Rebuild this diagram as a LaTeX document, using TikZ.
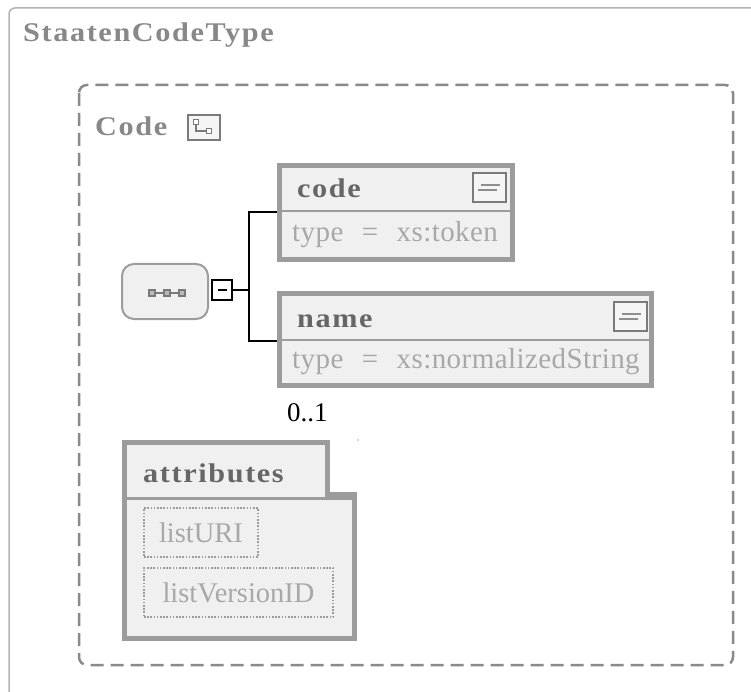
\documentclass[tikz,border=0pt]{standalone}
\usepackage{fontspec}
\setmainfont{Liberation Serif}
\newfontfamily\hdrfont[LetterSpace=6,FakeStretch=1.12]{Liberation Serif}
\newfontfamily\typefont[WordSpace=2.4,LetterSpace=1.5]{Liberation Serif}
\definecolor{outerline}{HTML}{B4B4B4}
\definecolor{titlegray}{HTML}{888888}
\definecolor{dashgray}{HTML}{8A8A8A}
\definecolor{boxgray}{HTML}{9C9C9C}
\definecolor{boxfill}{HTML}{F0F0F0}
\definecolor{hdrgray}{HTML}{666666}
\definecolor{typegray}{HTML}{A8A8A8}
\definecolor{icongray}{HTML}{7A7A7A}
\tikzset{
  ttl/.style={inner sep=0pt, text=titlegray, font=\hdrfont\bfseries\fontsize{27pt}{30pt}\selectfont},
  hdr/.style={inner sep=0pt, text=hdrgray, font=\hdrfont\bfseries\fontsize{27pt}{30pt}\selectfont},
  typ/.style={inner sep=0pt, text=typegray, font=\typefont\fontsize{29pt}{34pt}\selectfont},
  elem/.style={draw=boxgray, line width=5pt, fill=boxfill, rectangle, inner sep=0pt},
  sepline/.style={draw=boxgray, line width=2.5pt},
  conn/.style={draw=black, line width=2pt},
  seqbox/.style={draw=boxgray, line width=2pt, fill=boxfill, rounded corners=12pt, minimum width=86pt, minimum height=55pt, inner sep=0pt},
  minusbox/.style={draw=black, line width=2pt, fill=white, minimum size=20pt, inner sep=0pt},
  attrbox/.style={draw=boxgray, line width=1.6pt, dash pattern=on 1.6pt off 1.6pt, inner sep=0pt, text=typegray, font=\fontsize{28.5pt}{32pt}\selectfont},
  iconbox/.style={draw=icongray, line width=2pt, fill=white!96!black},
  iconline/.style={draw=icongray!85, line width=2.5pt},
  docicon/.pic={
    \draw[iconbox] (0,0) rectangle (33,29);
    \draw[iconline] (8,12) -- (27,12);
    \draw[iconline] (5,17) -- (24,17);
  }
}
\begin{document}
\begin{tikzpicture}[x=1pt,y=-1pt]
\useasboundingbox (0,0) rectangle (751,692);
\fill[white] (0,0) rectangle (751,692);
% outer type box (clipped at right and bottom)
\draw[outerline, line width=1.5pt, rounded corners=6pt] (9,700) -- (9,8) -- (760,8);
\node[ttl, anchor=base west] (title) at (23,42) {StaatenCodeType};
% dashed complex type box
\draw[dashgray, line width=2.5pt, dash pattern=on 13pt off 7pt, rounded corners=8pt] (79,85) rectangle (733,665);
\node[ttl, anchor=base west] (codeLbl) at (95,136) {Code};
% tree icon
\draw[iconbox] (188,115) rectangle (220,140);
\draw[icongray, line width=1.5pt] (196,124) -- (196,131) -- (207,131);
\draw[icongray, line width=1.5pt, fill=white] (193.5,119.5) rectangle (198.5,124.5);
\draw[icongray, line width=1.5pt, fill=white] (206.5,128.5) rectangle (211.5,133.5);
% sequence compositor
\node[seqbox] (seq) at (165,291.5) {};
\draw[icongray, line width=1.5pt] (152,293) -- (182,293);
\foreach \xx in {152,167,182}{
  \draw[icongray, line width=1.2pt, fill=boxgray!70] (\xx-3,290) rectangle (\xx+3,296);
}
\node[minusbox] (minus) at (222,290) {};
\draw[black, line width=2.5pt] (217.5,290) -- (226.5,290);
% elements
\node[elem, minimum width=233pt, minimum height=94pt] (code) at (396,212.5) {};
\draw[sepline] (279.5,211) -- (512.5,211);
\node[hdr, anchor=base west] (codeT) at (297,198) {code};
\node[typ, anchor=base west] (codeType) at (292,242) {type = xs:token};
\pic at (473,173) {docicon};
\node[elem, minimum width=372pt, minimum height=92pt] (name) at (465.5,339.5) {};
\draw[sepline] (279.5,340) -- (651.5,340);
\node[hdr, anchor=base west] (nameT) at (297,327) {name};
\node[typ, anchor=base west] (nameType) at (292,368) {type = xs:normalizedString};
\pic at (614,302) {docicon};
\node[anchor=base west, inner sep=0pt, font=\fontsize{27pt}{30pt}\selectfont] (card) at (287,421) {0..1};
% connectors
\coordinate (j) at (249,290);
\coordinate (cs) at (300,212);
\coordinate (ns) at (300,341);
\draw[conn] (minus.east) -- (j);
\draw[conn] (code.west |- cs) -| (j) |- (name.west |- ns);
% attributes
\fill[typegray] (358,440) circle (0.9pt);
\draw[boxgray, line width=5pt, fill=boxfill, line join=miter] (124.5,638.5) -- (124.5,442.5) -- (327.5,442.5) -- (327.5,494.5) -- (354.5,494.5) -- (354.5,638.5) -- cycle;
\draw[sepline] (124.5,498.5) -- (354.5,498.5);
\node[hdr, anchor=base west] (attrT) at (143,482) {attributes};
\node[attrbox, minimum width=114pt, minimum height=49pt] (uri) at (201,532.5) {listURI};
\node[attrbox, minimum width=189pt, minimum height=49pt] (ver) at (238.5,592.5) {listVersionID};
\end{tikzpicture}
\end{document}
